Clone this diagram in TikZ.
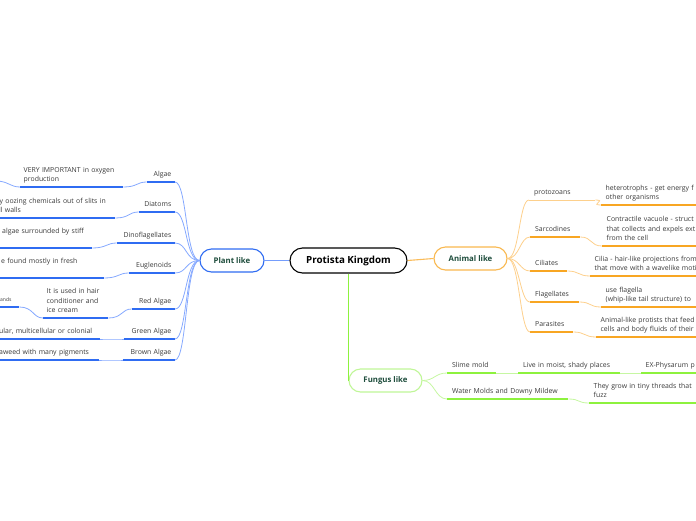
\documentclass[tikz,border=0pt]{standalone}
\usepackage{fontspec}
\setmainfont{Open Sans}
\definecolor{bthick}{HTML}{2F6CF2}
\definecolor{bthin}{HTML}{86A9FF}
\definecolor{othick}{HTML}{F8A623}
\definecolor{othin}{HTML}{FDD08C}
\definecolor{gthick}{HTML}{8DF23E}
\definecolor{gthin}{HTML}{C6F7A2}
\definecolor{boxtext}{HTML}{1E4D3C}
\definecolor{labgray}{HTML}{3A3A3A}
\newcommand{\labfont}{\fontsize{6.9}{9.7}\selectfont}
\tikzset{
  lab/.style={font=\labfont, text=labgray, inner xsep=3.5pt, inner ysep=3pt, execute at end node={\rule[-2pt]{0pt}{2pt}}},
  labR/.style={lab, align=right, anchor=south east},
  labL/.style={lab, align=left, anchor=south west},
  mainbox/.style={draw, rounded corners=11.5pt, fill=white, line width=1.1pt, minimum height=23pt, font=\bfseries\fontsize{7.8}{9}\selectfont, text=boxtext},
  rootbox/.style={draw=black, rounded corners=12.5pt, fill=white, line width=1.1pt, minimum width=117pt, minimum height=25pt, font=\bfseries\fontsize{9.8}{11}\selectfont, text=black},
  bU/.style={draw=bthick, line width=1.8pt},
  bL/.style={draw=bthin, line width=0.8pt},
  oU/.style={draw=othick, line width=1.8pt},
  oL/.style={draw=othin, line width=0.8pt},
  gU/.style={draw=gthick, line width=1.8pt},
  gL/.style={draw=gthin, line width=0.8pt},
}
\begin{document}
\begin{tikzpicture}[x=1pt,y=-1pt]
\useasboundingbox (0,0) rectangle (696,520);
% main nodes
\node[rootbox] (root) at (348.5,260.5) {Protista Kingdom};
\node[mainbox, draw=bthick, minimum width=64pt] (plant) at (232,260.5) {Plant like};
\node[mainbox, draw=othick!80, minimum width=73pt] (animal) at (470.5,258.5) {Animal like};
\node[mainbox, draw=gthin!90!gthick, minimum width=73pt] (fungus) at (385.5,380.5) {Fungus like};
\draw[draw=bthin!80!bthick, line width=1.1pt] (root.west) -- (plant.east);
\draw[draw=othick!75, line width=1.1pt] (root.east) -- (animal.west);
\draw[draw=gthick, line width=1.6pt] (root.south) |- (fungus.west);

% plant children
\node[labR, text width=21pt] (algae) at (175,182) {\mbox{Algae}};
\node[labR, text width=29pt] (diatoms) at (175,212) {\mbox{Diatoms}};
\node[labR, text width=51pt] (dino) at (175,243) {\mbox{Dinoflagellates}};
\node[labR, text width=39pt] (eugl) at (175,273) {\mbox{Euglenoids}};
\node[labR, text width=36pt] (red) at (175,309) {\mbox{Red Algae}};
\node[labR, text width=44pt] (green) at (175,339) {\mbox{Green Algae}};
\node[labR, text width=45pt] (brown) at (175,360) {\mbox{Brown Algae}};
\foreach \n in {algae,diatoms,dino,eugl,red,green,brown}{
  \draw[bU] (\n.south west) -- (\n.south east);
  \draw[bL] (plant.west) .. controls +(-14,0) and +(12,0) .. (\n.south east);
}
% plant grandchildren
\node[labL, text width=96pt] (algaeD) at (20,187) {\mbox{VERY IMPORTANT in oxygen}\\\mbox{production}};
\node[labL, text width=118pt, inner xsep=0pt] (diatD) at (-3,218) {\mbox{\hspace{2.5pt}y oozing chemicals out of slits in}\\\mbox{\hspace{2pt}ll walls}};
\node[labL, text width=95pt, inner xsep=0pt] (dinoD) at (-3,248) {\mbox{\hspace{5pt}algae surrounded by stiff}\\\mbox{}};
\node[labL, text width=107pt, inner xsep=0pt] (euglD) at (-3,278) {\mbox{\hspace{4pt}e found mostly in fresh}\\\mbox{}};
\node[labL, text width=58pt] (redD) at (43,318) {\mbox{It is used in hair}\\\mbox{conditioner and}\\\mbox{ice cream}};
\node[labL, text width=22pt, inner xsep=0pt, font=\fontsize{5}{6}\selectfont] (redDD) at (-3,307) {\mbox{\hspace{3pt}ands}};
\node[labL, text width=103pt, inner xsep=0pt] (greenD) at (-3,339) {\mbox{\hspace{2pt}ular, multicellular or colonial}};
\node[labL, text width=102pt, inner xsep=0pt] (brownD) at (-3,360) {\mbox{\hspace{2pt}aweed with many pigments}};
\coordinate (algaeDD) at (-4,181);
\foreach \n/\m in {algaeD/algae,diatD/diatoms,dinoD/dino,euglD/eugl,redD/red,greenD/green,brownD/brown}{
  \draw[bU] (\n.south west) -- (\n.south east);
  \draw[bL] (\n.south east) .. controls +(14,0) and +(-10,0) .. (\m.south west);
}
\draw[bU] (redDD.south west) -- (redDD.south east);
\draw[bL] (redDD.south east) .. controls +(14,0) and +(-10,0) .. (redD.south west);
\draw[bL] (algaeDD) .. controls +(12,0) and +(-10,0) .. (algaeD.south west);

% animal children
\node[labL, text width=56pt, inner xsep=5pt] (proto) at (529,200) {\mbox{protozoans}};
\node[labL, text width=40pt, inner xsep=5pt] (sarc) at (530,237) {\mbox{Sarcodines}};
\node[labL, text width=27pt, inner xsep=5pt] (cil) at (530,271) {\mbox{Ciliates}};
\node[labL, text width=39pt, inner xsep=5pt] (flag) at (530,302) {\mbox{Flagellates}};
\node[labL, text width=33pt, inner xsep=5pt] (para) at (530,332) {\mbox{Parasites}};
\draw[oL] (proto.south west) -- (proto.south east);
\draw[oL] (animal.east) .. controls +(12,0) and +(-10,0) .. (proto.south west);
\foreach \n in {sarc,cil,flag,para}{
  \draw[oU] (\n.south west) -- (\n.south east);
  \draw[oL] (animal.east) .. controls +(12,0) and +(-10,0) .. (\n.south west);
}
% animal grandchildren
\node[labL, text width=120pt, inner xsep=4.5pt] (protoD) at (601,205) {\mbox{heterotrophs - get energy f}\\\mbox{other organisms}};
\node[labL, text width=120pt, inner xsep=4.5pt] (sarcD) at (602,246) {\mbox{Contractile vacuole - struct}\\\mbox{that collects and expels ext}\\\mbox{from the cell}};
\node[labL, text width=130pt, inner xsep=4.5pt] (cilD) at (590,276) {\mbox{Cilia - hair-like projections from}\\\mbox{that move with a wavelike moti}};
\node[labL, text width=120pt, inner xsep=4.5pt] (flagD) at (601,307) {\mbox{use flagella}\\\mbox{(whip-like tail structure) to}};
\node[labL, text width=120pt, inner xsep=4.5pt] (paraD) at (596,337) {\mbox{Animal-like protists that feed}\\\mbox{cells and body fluids of their}};
\foreach \n/\m in {protoD/proto,sarcD/sarc,cilD/cil,flagD/flag,paraD/para}{
  \draw[oU] (\n.south west) -- (\n.south east);
  \draw[oL] (\m.south east) .. controls +(12,0) and +(-12,0) .. (\n.south west);
}

% fungus children
\node[labL, text width=39pt, inner xsep=5pt] (slime) at (447,373) {\mbox{Slime mold}};
\node[labL, text width=111pt, inner xsep=5pt] (water) at (447,399) {\mbox{Water Molds and Downy Mildew}};
\node[labL, text width=92pt, inner xsep=5pt] (slimeD) at (518,373) {\mbox{Live in moist, shady places}};
\node[labL, text width=70pt, inner xsep=4.5pt] (slimeDD) at (641,373) {\mbox{EX-Physarum p}};
\node[labL, text width=120pt, inner xsep=4.5pt] (waterD) at (589,403) {\mbox{They grow in tiny threads that}\\\mbox{fuzz}};
\foreach \n in {slime,water,slimeD,slimeDD,waterD}{
  \draw[gU] (\n.south west) -- (\n.south east);
}
\draw[gL] (fungus.east) .. controls +(12,0) and +(-12,0) .. (slime.south west);
\draw[gL] (fungus.east) .. controls +(12,0) and +(-12,0) .. (water.south west);
\draw[gL] (slime.south east) -- (slimeD.south west);
\draw[gL] (slimeD.south east) -- (slimeDD.south west);
\draw[gL] (water.south east) .. controls +(12,0) and +(-12,0) .. (waterD.south west);
\end{tikzpicture}
\end{document}
